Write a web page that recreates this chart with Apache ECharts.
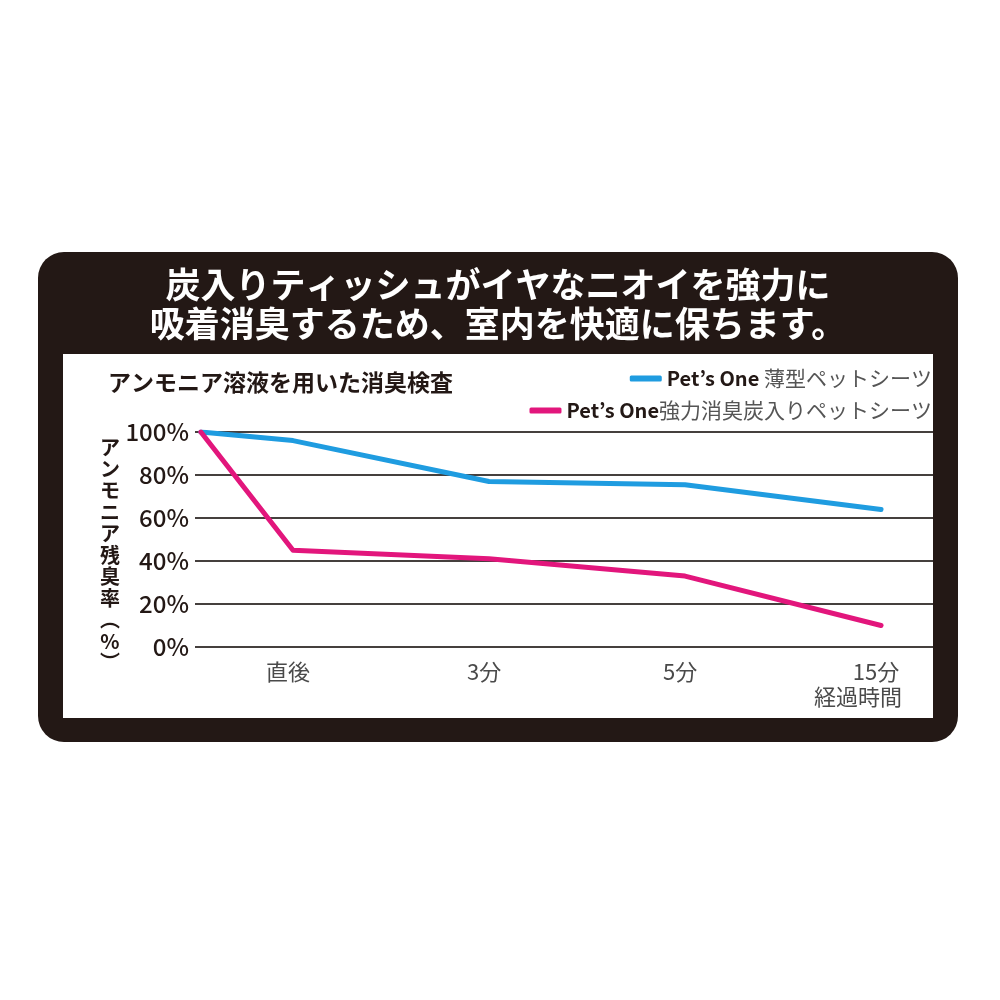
<!DOCTYPE html>
<html><head><meta charset="utf-8">
<script src="https://cdn.jsdelivr.net/npm/echarts@6/dist/echarts.min.js"></script>
<style>html,body{margin:0;padding:0;background:#fff}#c{width:1000px;height:1000px}</style>
</head><body><div id="c"></div>
<script>
const titleLines = ['炭入りティッシュがイヤなニオイを強力に', '吸着消臭するため、室内を快適に保ちます。'];
const subtitle = 'アンモニア溶液を用いた消臭検査';
const yAxisNameChars = ['ア','ン','モ','ニ','ア','残','臭','率','︵','%','︶'];
const xAxisName = '経過時間';
const categories = ['直後', '3分', '5分', '15分'];
const timeIndex = [0.53, 1, 2, 3, 4]; // start point, then 直後 / 3分 / 5分 / 15分
const seriesNames = ['Pet’s One 薄型ペットシーツ', 'Pet’s One強力消臭炭入りペットシーツ'];
const brandName = 'Pet’s One';
const thinSheet = [100, 96, 77, 75.5, 64];
const charcoalSheet = [100, 45, 41, 33, 10];

const FONT = "'Noto Sans CJK JP', 'Noto Sans', sans-serif";
const DARK = '#231815';
const BLUE = '#1f9ce0';
const PINK = '#e2167c';

const chart = echarts.init(document.getElementById('c'), null, {renderer: 'canvas'});

function legendCfg(name, top) {
  return {
    data: [name], right: 63, top: top, itemWidth: 32, itemHeight: 6, icon: 'roundRect',
    selectedMode: false,
    formatter: n => '{b|' + brandName + '}{j|' + n.slice(brandName.length) + '}',
    textStyle: {
      rich: {
        b: {fontFamily: FONT, fontWeight: 'bold', fontSize: 20, color: DARK},
        j: {fontFamily: FONT, fontSize: 21, color: '#555'}
      }
    }
  };
}

const option = {
  animation: false,
  backgroundColor: '#fff',
  graphic: [
    {type: 'rect', z: -10, silent: true, shape: {x: 38, y: 252, width: 920, height: 490, r: 26}, style: {fill: DARK}},
    {type: 'rect', z: -9, silent: true, shape: {x: 63, y: 354, width: 870, height: 364}, style: {fill: '#fff'}},
    {type: 'text', z: 100, silent: true, x: 498, y: 265, style: {
      text: titleLines.join('\n'), fill: '#fff', fontFamily: FONT, fontWeight: 'bold', fontSize: 35, lineHeight: 39,
      textAlign: 'center', align: 'center', textVerticalAlign: 'top', verticalAlign: 'top'}},
    {type: 'text', z: 100, silent: true, x: 108, y: 382, style: {
      text: subtitle, fill: DARK, fontFamily: FONT, fontWeight: 'bold', fontSize: 23,
      textAlign: 'left', align: 'left', textVerticalAlign: 'middle', verticalAlign: 'middle'}},
    {type: 'text', z: 100, silent: true, x: 110, y: 437, style: {
      text: yAxisNameChars.join('\n'), fill: DARK, fontFamily: FONT, fontWeight: 'bold', fontSize: 20, lineHeight: 21.5,
      textAlign: 'center', align: 'center', textVerticalAlign: 'top', verticalAlign: 'top'}},
    {type: 'text', z: 100, silent: true, x: 902, y: 697, style: {
      text: xAxisName, fill: '#4a4a4a', fontFamily: FONT, fontSize: 22,
      textAlign: 'right', align: 'right', textVerticalAlign: 'middle', verticalAlign: 'middle'}}
  ],
  legend: [legendCfg(seriesNames[0], 363), legendCfg(seriesNames[1], 395)],
  grid: {left: 195, right: 67, top: 432, bottom: 353, containLabel: false},
  xAxis: {
    type: 'value', min: 0.5, max: 4.265, interval: 0.5,
    axisLine: {show: false}, axisTick: {show: false}, splitLine: {show: false},
    axisLabel: {
      margin: 14, fontFamily: FONT, fontSize: 22, color: '#4a4a4a', padding: [0, 10, 0, 0],
      showMinLabel: true, showMaxLabel: true,
      formatter: v => {
        const r = Math.round(v * 2) / 2;
        if (Math.abs(v - r) < 1e-6 && Number.isInteger(r) && r >= 1 && r <= categories.length) return categories[r - 1];
        return '';
      }
    }
  },
  yAxis: {
    type: 'value', min: 0, max: 100, interval: 20,
    axisLine: {show: false}, axisTick: {show: false},
    splitLine: {show: true, lineStyle: {color: '#45403e', width: 2}},
    axisLabel: {margin: 6, fontFamily: FONT, fontWeight: 500, fontSize: 24, color: DARK, formatter: v => v + '%'}
  },
  series: [
    {name: seriesNames[0], type: 'line', symbol: 'none', color: BLUE, z: 5,
     lineStyle: {width: 5, color: BLUE, cap: 'round', join: 'round'},
     data: timeIndex.map((x, i) => [x, thinSheet[i]])},
    {name: seriesNames[1], type: 'line', symbol: 'none', color: PINK, z: 6,
     lineStyle: {width: 5, color: PINK, cap: 'round', join: 'round'},
     data: timeIndex.map((x, i) => [x, charcoalSheet[i]])}
  ]
};
chart.setOption(option);
</script>
</body></html>
